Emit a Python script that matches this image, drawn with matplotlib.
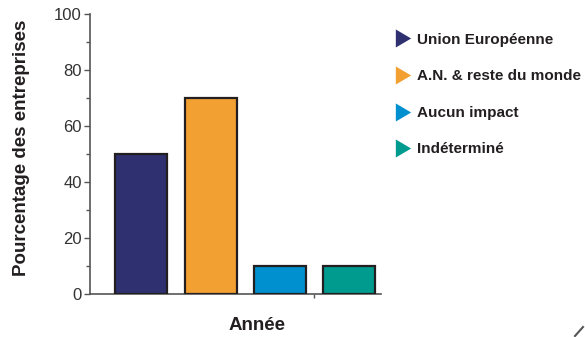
import numpy as np
import matplotlib.pyplot as plt
from matplotlib.lines import Line2D

plt.rcParams['font.family'] = ['Liberation Sans', 'DejaVu Sans']

# data
categories = ['Union Européenne', 'A.N. & reste du monde', 'Aucun impact', 'Indéterminé']
values = [50, 70, 10, 10]
colors = ['#2E3070', '#F3A032', '#0090D0', '#009B8F']

fig = plt.figure(figsize=(5.85, 3.37), dpi=100)
ax = fig.add_axes([90 / 585, 1 - 294 / 337, (381 - 90) / 585, (294 - 14) / 337])

x = np.arange(len(values))
ax.bar(x, values, width=0.75, color=colors, edgecolor='#231F20', linewidth=1.6, zorder=3)

ax.set_xlim(-0.74, 3.46)
ax.set_ylim(0, 100)
ax.set_yticks([0, 20, 40, 60, 80, 100])
ax.set_yticks([10, 30, 50, 70, 90], minor=True)
ax.set_xticks([])
ax.set_xticks([2.5], minor=True)
ax.tick_params(axis='x', which='minor', length=3, color='#555555', width=1, labelbottom=False)
ax.tick_params(axis='y', which='major', length=4, color='#555555', width=1,
               labelsize=12, labelcolor='#333333', pad=2)
ax.tick_params(axis='y', which='minor', length=3, color='#555555', width=1)

for s in ['top', 'right']:
    ax.spines[s].set_visible(False)
for s in ['left', 'bottom']:
    ax.spines[s].set_color('#555555')
    ax.spines[s].set_linewidth(1.2)

fig.text(22 / 585, 1 - 148 / 337, 'Pourcentage des entreprises', rotation=90,
         ha='center', va='center', fontsize=13.5, fontweight='bold', color='#231F20')
fig.text(257 / 585, 1 - 326 / 337, 'Année', ha='center', va='center',
         fontsize=13.5, fontweight='bold', color='#231F20')

tri = [(-0.85, -1), (0.85, 0), (-0.85, 1), (-0.85, -1)]
handles = [Line2D([], [], linestyle='none', marker=tri, markersize=13,
                  markerfacecolor=c, markeredgecolor='none') for c in colors]
leg = fig.legend(handles, categories, loc='upper left',
                 bbox_to_anchor=(388 / 585, 1 - 25 / 337), frameon=False,
                 prop={'weight': 'bold', 'size': 11}, labelspacing=1.48,
                 handlelength=1.0, handletextpad=0.4, borderpad=0)
for t in leg.get_texts():
    t.set_color('#231F20')

# small corner stroke
fig.add_artist(Line2D([575 / 585, 583 / 585], [1 - 336 / 337, 1 - 327 / 337],
                      color='#555555', linewidth=1.5))

fig.savefig('out.png', dpi=100)
